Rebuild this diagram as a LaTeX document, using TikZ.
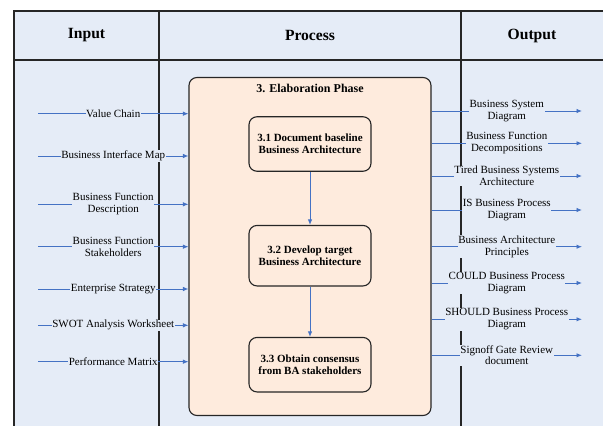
\documentclass[tikz,border=0pt]{standalone}
\usepackage{fontspec}
\setmainfont{Liberation Serif}
\usetikzlibrary{arrows.meta}

\definecolor{tablebg}{HTML}{E5ECF7}
\definecolor{phasebg}{HTML}{FEEBDD}
\definecolor{flowblue}{HTML}{4472C4}
\definecolor{rulegray}{HTML}{262626}

\tikzset{
  grid line/.style={draw=rulegray, line width=1.1pt},
  head/.style={font=\fontsize{15.6}{18}\selectfont\bfseries, text=black},
  phasebox/.style={draw=rulegray, line width=1.1pt, fill=phasebg, rounded corners=8pt},
  stepbox/.style={draw=rulegray, line width=1.1pt, fill=phasebg, rounded corners=8pt,
    minimum width=122pt, align=center, inner sep=2pt,
    font=\fontsize{11}{11.6}\selectfont\bfseries},
  flow/.style={draw=flowblue, line width=0.9pt, -{Latex[length=5.5pt,width=4.5pt]}},
  lbl/.style={fill=tablebg, inner sep=0.6pt, align=center, text=black,
    font=\fontsize{11}{11.6}\selectfont},
}

\begin{document}
\begin{tikzpicture}[x=1pt, y=-1pt]
\useasboundingbox (0,0) rectangle (603,426);

% table background and rules
\fill[tablebg] (14,11) rectangle (603,426);
\draw[grid line] (603,11) -- (14,11) -- (14,426);
\draw[grid line] (14,60) -- (603,60);
\draw[grid line] (159,11) -- (159,426);
\draw[grid line] (461,11) -- (461,426);

% column headings
\node[head] (hin)  at (86.5,35.5) {Input};
\node[head] (hpro) at (310,35.5)  {Process};
\node[head] (hout) at (532,35.5)  {Output};

% elaboration phase container
\node[phasebox, minimum width=242pt, minimum height=338pt] (phase) at (310,246.5) {};
\node[font=\fontsize{12}{14}\selectfont\bfseries] (ptitle) at (310,88) {3. Elaboration Phase};

% steps
\node[stepbox, minimum height=54.5pt] (s1) at (310,144) {3.1 Document baseline\\Business Architecture};
\node[stepbox, minimum height=60.5pt] (s2) at (310,255.7) {3.2 Develop target\\Business Architecture};
\node[stepbox, minimum height=54.5pt] (s3) at (310,364.7) {3.3 Obtain consensus\\from BA stakeholders};
\draw[flow] (s1) -- (s2);
\draw[flow] (s2) -- (s3);

% inputs
\foreach \n/\y/\t in {
  i1/113.7/{Value Chain},
  i2/156/{Business Interface Map},
  i3/204.3/{Business Function\\Description},
  i4/246.7/{Business Function\\Stakeholders},
  i5/289/{Enterprise Strategy},
  i6/325.3/{SWOT Analysis Worksheet},
  i7/361.7/{Performance Matrix}}{
  \coordinate (\n) at (38,\y);
  \draw[flow] (\n) -- node[lbl] (\n-l) {\t} (\n -| phase.west);
}

% outputs
\foreach \n/\y/\t in {
  o1/111/{Business System\\Diagram},
  o2/143.3/{Business Function\\Decompositions},
  o3/176/{Tired Business Systems\\Architecture},
  o4/210/{IS Business Process\\Diagram},
  o5/246.7/{Business Architecture\\Principles},
  o6/283/{COULD Business Process\\Diagram},
  o7/319.3/{SHOULD Business Process\\Diagram},
  o8/355.3/{Signoff Gate Review\\document}}{
  \coordinate (\n) at (582,\y);
  \draw[flow] (\n -| phase.east) -- node[lbl] (\n-l) {\t} (\n);
}
\end{tikzpicture}
\end{document}
